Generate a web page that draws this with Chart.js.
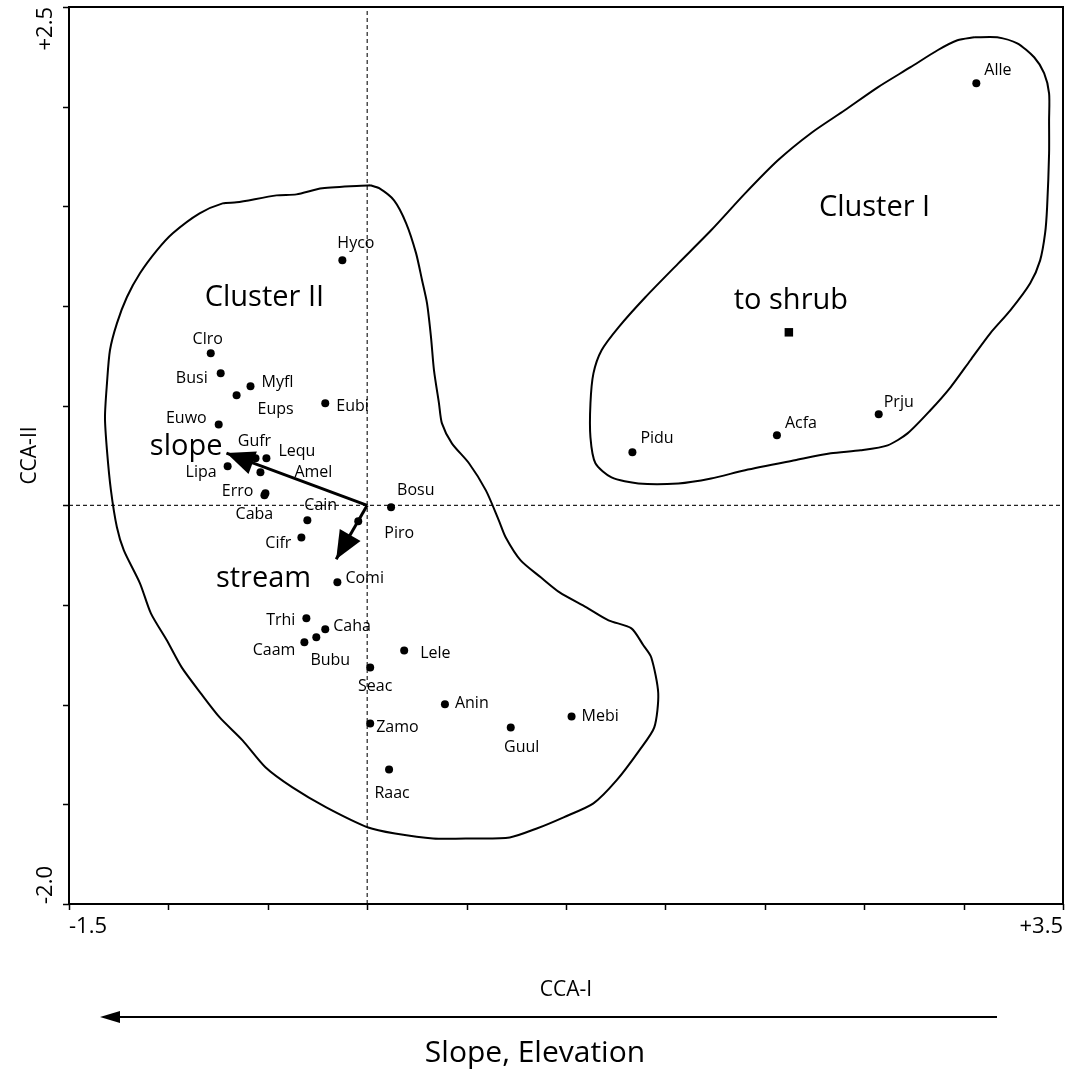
<!DOCTYPE html>
<html>
<head>
<meta charset="utf-8">
<script src="https://cdn.jsdelivr.net/npm/chart.js@4.4.1/dist/chart.umd.min.js"></script>
<style>
  html, body { margin: 0; padding: 0; background: #fff; }
  #wrap { width: 1069px; height: 1082px; }
</style>
</head>
<body>
<div id="wrap"><canvas id="cca" width="1069" height="1082"></canvas></div>
<script>
// axis ranges (CCA-I horizontal, CCA-II vertical)
const xMin = -1.5, xMax = 3.5;
const yMin = -2.0, yMax = 2.5;
const tickStep = 0.5;

// species scores
const species = ['Alle', 'Prju', 'Acfa', 'Pidu',
  'Hyco', 'Clro', 'Busi', 'Myfl', 'Eups', 'Eubi', 'Euwo', 'Gufr', 'Lequ', 'Amel', 'Lipa',
  'Erro', 'Caba', 'Cain', 'Cifr', 'Piro', 'Bosu', 'Comi', 'Trhi', 'Caha', 'Bubu', 'Caam',
  'Lele', 'Seac', 'Zamo', 'Anin', 'Guul', 'Mebi', 'Raac'];
const cca1 = [3.064, 2.573, 2.061, 1.334,
  -0.125, -0.787, -0.737, -0.587, -0.657, -0.211, -0.747, -0.562, -0.507, -0.537, -0.702,
  -0.512, -0.517, -0.301, -0.331, -0.045, 0.120, -0.150, -0.306, -0.211, -0.256, -0.316,
  0.186, 0.015, 0.015, 0.391, 0.722, 1.028, 0.110];
const cca2 = [2.117, 0.457, 0.351, 0.266,
  1.229, 0.763, 0.663, 0.597, 0.552, 0.512, 0.406, 0.236, 0.236, 0.166, 0.196,
  0.060, 0.050, -0.075, -0.161, -0.080, -0.009, -0.386, -0.567, -0.622, -0.662, -0.687,
  -0.728, -0.813, -1.094, -0.998, -1.114, -1.059, -1.325];

// environmental vectors
const envNames = ['slope', 'stream'];
const envX = [-0.708, -0.156];
const envY = [0.262, -0.270];

// nominal variable centroid
const shrubName = 'to shrub';
const shrubX = [2.121];
const shrubY = [0.868];

// cluster outlines
const cluster1X = [3.054, 3.169, 3.270, 3.355, 3.405, 3.430, 3.430, 3.430, 3.420, 3.410, 3.385, 3.335,
  3.235, 3.134, 3.034, 2.934, 2.833, 2.718, 2.618, 2.482, 2.332, 2.151, 1.901, 1.730, 1.565, 1.364,
  1.229, 1.148, 1.123, 1.123, 1.138, 1.179, 1.264, 1.399, 1.565, 1.730, 1.901, 2.066, 2.232, 2.402,
  2.568, 2.733, 2.869, 2.969, 3.054];
const cluster1Y = [2.348, 2.348, 2.318, 2.248, 2.168, 2.067, 1.932, 1.766, 1.495, 1.365, 1.229, 1.114,
  0.978, 0.863, 0.728, 0.592, 0.477, 0.361, 0.301, 0.276, 0.261, 0.226, 0.176, 0.135, 0.110, 0.110,
  0.140, 0.211, 0.341, 0.512, 0.662, 0.778, 0.893, 1.044, 1.214, 1.380, 1.565, 1.731, 1.867, 1.982,
  2.097, 2.198, 2.283, 2.333, 2.348];
const cluster2X = [0.015, 0.060, 0.135, 0.196, 0.246, 0.276, 0.301, 0.321, 0.336, 0.361, 0.376, 0.426,
  0.512, 0.597, 0.662, 0.697, 0.772, 0.873, 0.968, 1.103, 1.214, 1.329, 1.389, 1.429, 1.464, 1.444,
  1.369, 1.254, 1.138, 0.988, 0.853, 0.717, 0.527, 0.331, 0.140, 0.005, -0.206, -0.376, -0.512, -0.627,
  -0.742, -0.837, -0.933, -1.008, -1.088, -1.143, -1.224, -1.259, -1.289, -1.309, -1.319, -1.309, -1.294,
  -1.259, -1.209, -1.143, -1.058, -0.978, -0.843, -0.727, -0.657, -0.456, -0.356, -0.226, 0.015];
const cluster2Y = [1.606, 1.591, 1.530, 1.415, 1.264, 1.129, 1.013, 0.843, 0.677, 0.512, 0.411, 0.311,
  0.211, 0.075, -0.075, -0.161, -0.276, -0.361, -0.437, -0.512, -0.577, -0.617, -0.702, -0.763, -0.943, -1.114,
  -1.229, -1.380, -1.495, -1.565, -1.621, -1.666, -1.671, -1.671, -1.646, -1.616, -1.515, -1.415, -1.314, -1.179,
  -1.064, -0.943, -0.813, -0.677, -0.542, -0.391, -0.226, -0.110, 0.075, 0.276, 0.442, 0.612, 0.778,
  0.913, 1.044, 1.164, 1.279, 1.365, 1.465, 1.515, 1.520, 1.555, 1.560, 1.591, 1.606];

// cluster names, placed in data units
const clusterNames = ['Cluster I', 'Cluster II'];
const clusterTextX = [2.552, -0.517];
const clusterTextY = [1.494, 1.041];

// label placement: [dx px, dy px, align]
const labelPos = {
  Alle: [8, -13, 'left'], Prju: [5, -12, 'left'], Acfa: [8, -12, 'left'], Pidu: [8, -14, 'left'],
  Hyco: [-5, -17, 'left'], Clro: [-3, -14, 'center'], Busi: [-13, 5, 'right'], Myfl: [11, -4, 'left'],
  Eups: [21, 14, 'left'], Eubi: [11, 3, 'left'], Euwo: [-12, -6, 'right'], Gufr: [-1, -17, 'center'],
  Lequ: [12, -7, 'left'], Amel: [34, 0, 'left'], Lipa: [-11, 6, 'right'], Erro: [-12, -2, 'right'],
  Caba: [-10, 19, 'center'], Cain: [-3, -15, 'left'], Cifr: [-10, 6, 'right'], Piro: [26, 12, 'left'],
  Bosu: [6, -17, 'left'], Comi: [8, -4, 'left'], Trhi: [-11, 2, 'right'], Caha: [8, -3, 'left'],
  Bubu: [14, 23, 'center'], Caam: [-9, 8, 'right'], Lele: [16, 3, 'left'], Seac: [5, 19, 'center'],
  Zamo: [6, 4, 'left'], Anin: [10, -1, 'left'], Guul: [11, 20, 'center'], Mebi: [10, 0, 'left'],
  Raac: [3, 24, 'center']
};
const envLabelPos = { slope: [-4, -6, 'right'], stream: [-25, 20, 'right'] };

const FONT = '"Open Sans", "Noto Sans", sans-serif';
const pts = (xs, ys) => xs.map((x, i) => ({ x: x, y: ys[i] }));

const datasets = [
  { type: 'scatter', data: pts(cca1, cca2), pointRadius: 4, pointBackgroundColor: '#000',
    pointBorderWidth: 0, order: 1 },
  { type: 'scatter', data: pts(shrubX, shrubY), pointStyle: 'rect', pointRadius: 6,
    pointBackgroundColor: '#000', pointBorderWidth: 0, order: 1 },
  { type: 'line', data: pts(cluster1X, cluster1Y), borderColor: '#000', borderWidth: 2,
    pointRadius: 0, tension: 0.25, fill: false, order: 3 },
  { type: 'line', data: pts(cluster2X, cluster2Y), borderColor: '#000', borderWidth: 2,
    pointRadius: 0, tension: 0.25, fill: false, order: 3 },
  { type: 'line', data: [{ x: 0, y: yMin }, { x: 0, y: yMax }], borderColor: '#222', borderWidth: 1.2,
    borderDash: [4, 3], pointRadius: 0, order: 4 },
  { type: 'line', data: [{ x: xMin, y: 0 }, { x: xMax, y: 0 }], borderColor: '#222', borderWidth: 1.2,
    borderDash: [4, 3], pointRadius: 0, order: 4 }
];
envX.forEach((x, i) => {
  datasets.push({ type: 'line', data: [{ x: 0, y: 0 }, { x: x, y: envY[i] }], borderColor: '#000',
    borderWidth: 3, pointRadius: 0, order: 2 });
});

const decorations = {
  id: 'decorations',
  afterDatasetsDraw(chart) {
    const ctx = chart.ctx;
    const xs = chart.scales.x, ys = chart.scales.y;
    const a = chart.chartArea;
    ctx.save();
    ctx.fillStyle = '#000';
    ctx.strokeStyle = '#000';

    // frame
    ctx.lineWidth = 2;
    ctx.strokeRect(a.left, a.top, a.right - a.left, a.bottom - a.top);

    // tick marks
    ctx.lineWidth = 1.5;
    ctx.beginPath();
    for (let v = xMin; v <= xMax + 1e-9; v += tickStep) {
      const p = Math.round(xs.getPixelForValue(v)) + 0.5;
      ctx.moveTo(p, a.bottom); ctx.lineTo(p, a.bottom + 6);
    }
    for (let v = yMin; v <= yMax + 1e-9; v += tickStep) {
      const p = Math.round(ys.getPixelForValue(v)) + 0.5;
      ctx.moveTo(a.left, p); ctx.lineTo(a.left - 6, p);
    }
    ctx.stroke();

    // end tick labels
    ctx.font = '22px ' + FONT;
    ctx.textBaseline = 'top';
    ctx.textAlign = 'left';
    ctx.fillText('-1.5', xs.getPixelForValue(xMin), a.bottom + 12);
    ctx.textAlign = 'right';
    ctx.fillText('+3.5', xs.getPixelForValue(xMax), a.bottom + 12);
    ctx.save();
    ctx.translate(a.left - 12, ys.getPixelForValue(yMax));
    ctx.rotate(-Math.PI / 2);
    ctx.textAlign = 'right';
    ctx.textBaseline = 'bottom';
    ctx.fillText('+2.5', 0, 0);
    ctx.restore();
    ctx.save();
    ctx.translate(a.left - 12, ys.getPixelForValue(yMin));
    ctx.rotate(-Math.PI / 2);
    ctx.textAlign = 'left';
    ctx.textBaseline = 'bottom';
    ctx.fillText('-2.0', 0, 0);
    ctx.restore();

    // axis titles
    ctx.font = '21px ' + FONT;
    ctx.textAlign = 'center';
    ctx.textBaseline = 'middle';
    ctx.fillText('CCA-I', (a.left + a.right) / 2, 990);
    ctx.save();
    ctx.translate(30, (a.top + a.bottom) / 2);
    ctx.rotate(-Math.PI / 2);
    ctx.fillText('CCA-II', 0, 0);
    ctx.restore();

    // gradient arrow under the axis
    ctx.lineWidth = 2;
    ctx.beginPath();
    ctx.moveTo(997, 1017); ctx.lineTo(112, 1017);
    ctx.stroke();
    ctx.beginPath();
    ctx.moveTo(100, 1017); ctx.lineTo(120, 1011); ctx.lineTo(120, 1023); ctx.closePath();
    ctx.fill();
    ctx.font = '30px ' + FONT;
    ctx.fillText('Slope, Elevation', 535, 1053);

    // env arrowheads and names
    const ox = xs.getPixelForValue(0), oy = ys.getPixelForValue(0);
    envX.forEach((x, i) => {
      const tx = xs.getPixelForValue(x), ty = ys.getPixelForValue(envY[i]);
      const ang = Math.atan2(ty - oy, tx - ox);
      const len = 28, hw = 12;
      const bx = tx - len * Math.cos(ang), by = ty - len * Math.sin(ang);
      ctx.beginPath();
      ctx.moveTo(tx, ty);
      ctx.lineTo(bx + hw * Math.sin(ang), by - hw * Math.cos(ang));
      ctx.lineTo(bx - hw * Math.sin(ang), by + hw * Math.cos(ang));
      ctx.closePath();
      ctx.fill();
      const lp = envLabelPos[envNames[i]];
      ctx.font = '29px ' + FONT;
      ctx.textAlign = lp[2];
      ctx.textBaseline = 'middle';
      ctx.fillText(envNames[i], tx + lp[0], ty + lp[1]);
    });

    // species labels
    ctx.font = '16px ' + FONT;
    ctx.textBaseline = 'middle';
    species.forEach((name, i) => {
      const lp = labelPos[name];
      ctx.textAlign = lp[2];
      ctx.fillText(name, xs.getPixelForValue(cca1[i]) + lp[0], ys.getPixelForValue(cca2[i]) + lp[1]);
    });

    // shrub and cluster names
    ctx.font = '29px ' + FONT;
    ctx.textAlign = 'center';
    ctx.fillText(shrubName, xs.getPixelForValue(shrubX[0]) + 2, ys.getPixelForValue(shrubY[0]) - 32);
    clusterNames.forEach((n, i) => {
      ctx.fillText(n, xs.getPixelForValue(clusterTextX[i]), ys.getPixelForValue(clusterTextY[i]));
    });
    ctx.restore();
  }
};

new Chart(document.getElementById('cca'), {
  type: 'scatter',
  data: { datasets: datasets },
  options: {
    responsive: false,
    animation: false,
    devicePixelRatio: 1,
    layout: { padding: { left: 69, top: 7, right: 3, bottom: 178 } },
    plugins: { legend: { display: false }, tooltip: { enabled: false } },
    scales: {
      x: { type: 'linear', min: xMin, max: xMax, ticks: { display: false },
           grid: { display: false, drawTicks: false }, border: { display: false } },
      y: { type: 'linear', min: yMin, max: yMax, ticks: { display: false },
           grid: { display: false, drawTicks: false }, border: { display: false } }
    }
  },
  plugins: [decorations]
});
</script>
</body>
</html>
